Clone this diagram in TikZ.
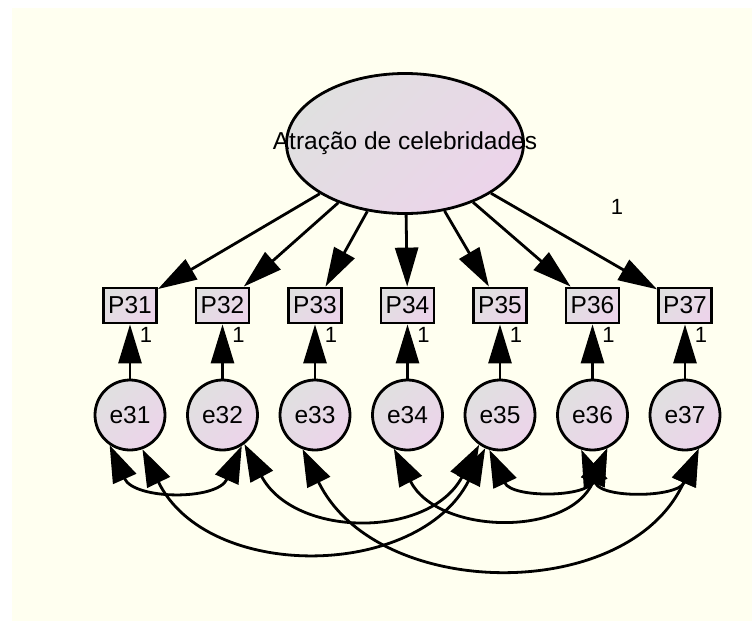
\documentclass[tikz,border=0pt]{standalone}
\usepackage{fontspec}
\setmainfont{Liberation Sans}
\usetikzlibrary{arrows.meta,shapes.geometric}
\definecolor{canvas}{RGB}{255,255,240}
\definecolor{fillgray}{RGB}{224,224,224}
\definecolor{fillpink}{RGB}{236,212,234}
\begin{document}
\begin{tikzpicture}[x=1pt,y=1pt,
  shaded/.style={draw, line width=2.8pt, left color=fillgray, right color=fillpink, shading angle=45},
  latent/.style={shaded, ellipse, minimum width=237pt, minimum height=140pt, inner sep=0pt},
  obs/.style={shaded, rectangle, minimum width=53pt, minimum height=35pt, inner sep=0pt, font=\fontsize{24.5}{24.5}\selectfont},
  err/.style={shaded, circle, minimum size=70pt, inner sep=0pt, font=\fontsize{24.5}{24.5}\selectfont},
  wt/.style={inner sep=0pt, font=\fontsize{22}{22}\selectfont},
  regarrow/.style={line width=2.8pt, -{Triangle[length=39pt,width=23pt]}},
  covarc/.style={line width=2.8pt, {Triangle[length=37pt,width=25pt]}-{Triangle[length=37pt,width=25pt]}, looseness=1.16}]
  % canvas
  \useasboundingbox (0,0) rectangle (752,-621);
  \fill[white] (0,0) rectangle (752,-621);
  \fill[canvas] (12,-8) rectangle (752,-621);

  % latent factor
  \node[latent, label={[font=\fontsize{24.5}{24.5}\selectfont]center:Atração de celebridades}] (lat) at (405,-143.5) {};

  % indicators, their error terms and fixed weights
  \foreach \i/\x in {1/130,2/222.5,3/315,4/407.5,5/500,6/592.5,7/685} {
    \node[obs] (p3\i) at (\x,-305.5) {P3\i};
    \node[err] (e3\i) at (\x,-415) {e3\i};
    \node[wt] (w3\i) at (\x+16,-335) {1};
  }
  \node[wt] (w0) at (617,-207) {1};

  % loadings and error paths
  \foreach \i in {1,...,7} {
    \draw[regarrow] (lat) -- (p3\i);
    \draw[regarrow] (e3\i) -- (p3\i);
  }

  % error covariances
  \draw[covarc] (e31.-124) to[out=-66,in=-114] (e32.-58);
  \draw[covarc, looseness=1.1] (e31.-70)  to[out=-64,in=-117] (e35.-114);
  \draw[covarc] (e32.-53)  to[out=-62,in=-118] (e35.-125);
  \draw[covarc, looseness=1.1] (e33.-110) to[out=-64,in=-114] (e37.-68);
  \draw[covarc] (e34.-112) to[out=-63,in=-113] (e36.-66);
  \draw[covarc] (e35.-107) to[out=-65,in=-113] (e36.-66);
  \draw[covarc] (e36.-108) to[out=-67,in=-113] (e37.-68);
\end{tikzpicture}
\end{document}
